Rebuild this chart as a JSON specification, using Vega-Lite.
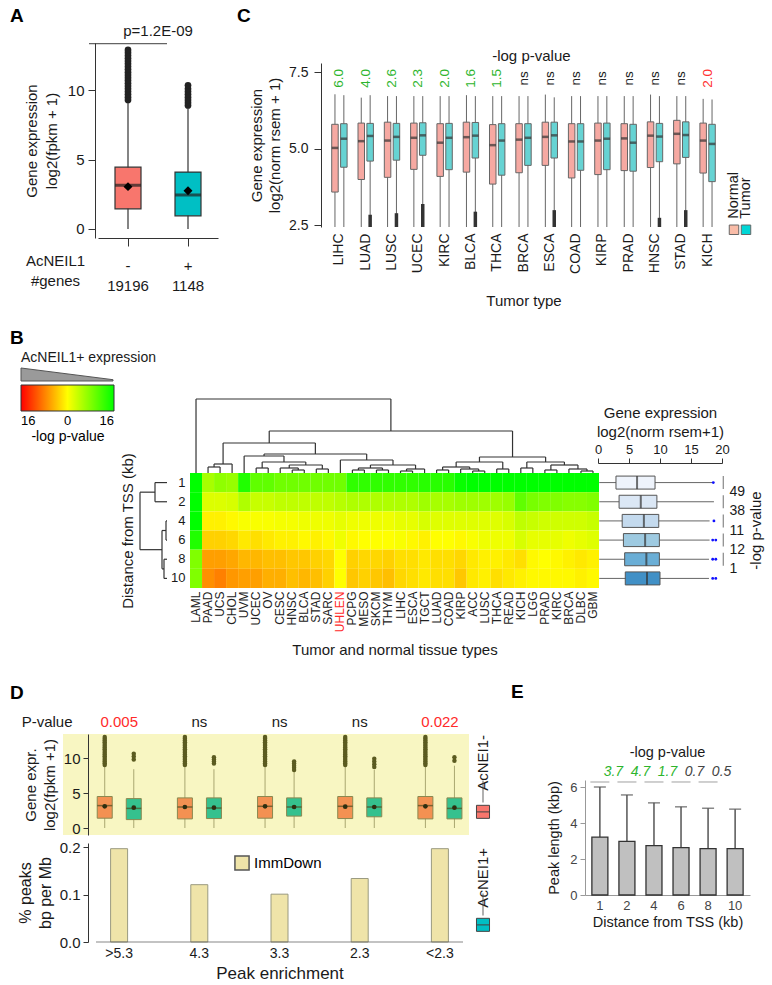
{
"$schema": "https://vega.github.io/schema/vega-lite/v6.json",
"padding": {"left": 10, "top": 7, "right": 0, "bottom": 0},
"background": "#ffffff",
"config": {
  "font": "Liberation Sans",
  "view": {"stroke": null},
  "axis": {"grid": false, "labelColor": "#1a1a1a", "titleColor": "#1a1a1a", "domainColor": "#333", "tickColor": "#333", "titleFontWeight": "normal", "labelFont": "Liberation Sans", "titleFont": "Liberation Sans"},
  "title": {"fontSize": 19, "fontWeight": "bold", "anchor": "start", "frame": "group", "color": "#000", "font": "Liberation Sans"},
  "legend": {"labelFont": "Liberation Sans", "titleFont": "Liberation Sans"},
  "text": {"color": "#1a1a1a"}
},
"spacing": 19,
"resolve": {"scale": {"color": "independent", "fill": "independent", "xOffset": "independent"}},
"vconcat": [
 {"hconcat": [
  {
   "title": {"text": "A", "dx": -53, "offset": -2},
   "width": 155, "height": 195,
   "layer": [
    {"data": {"values": [{"g":"-","lo":0,"q1":1.45,"med":3.15,"q3":4.45,"hi":9.2,"mean":3.05},{"g":"+","lo":0,"q1":0.95,"med":2.45,"q3":4.1,"hi":8.7,"mean":2.75}]},
     "layer": [
      {"mark": {"type": "rule", "color": "#333", "strokeWidth": 1.2},
       "encoding": {
        "x": {"field": "g", "type": "nominal", "scale": {"domain": ["-", "+"], "range": [35, 155], "paddingInner": 0, "paddingOuter": 0},
              "axis": {"title": ["AcNEIL1", "#genes"], "titleAngle": 0, "titleX": -8, "titleY": 22, "titleAlign": "center", "titleBaseline": "middle", "titleLineHeight": 20, "titleFontSize": 15, "labelAngle": 0, "labelExpr": "datum.value == '-' ? ['-', '19196'] : ['+', '1148']", "labelLineHeight": 20, "labelFontSize": 15, "tickSize": 8, "labelPadding": 12}},
        "y": {"field": "lo", "type": "quantitative", "scale": {"domain": [-0.65, 13.4], "nice": false, "zero": false},
              "axis": {"offset": -32, "values": [0, 5, 10], "title": ["Gene expression", "log2(fpkm + 1)"], "titleFontSize": 15, "titleLineHeight": 20, "labelFontSize": 15, "tickSize": 7, "labelPadding": 4, "titlePadding": 8}},
        "y2": {"field": "hi"}}},
      {"mark": {"type": "bar", "width": 26, "stroke": "#333", "strokeWidth": 1.2},
       "encoding": {"x": {"field": "g", "type": "nominal"}, "y": {"field": "q1", "type": "quantitative"}, "y2": {"field": "q3"},
        "fill": {"field": "g", "type": "nominal", "scale": {"domain": ["-", "+"], "range": ["#F8766D", "#00BFC4"]}, "legend": null}}},
      {"mark": {"type": "tick", "size": 26, "thickness": 3, "color": "#222"},
       "encoding": {"x": {"field": "g", "type": "nominal"}, "y": {"field": "med", "type": "quantitative"}}},
      {"mark": {"type": "point", "shape": "diamond", "filled": true, "size": 80, "color": "#000", "opacity": 1},
       "encoding": {"x": {"field": "g", "type": "nominal"}, "y": {"field": "mean", "type": "quantitative"}}}
     ]},
    {"data": {"values": [{"g":"-","v":9.3},{"g":"-","v":9.5},{"g":"-","v":9.7},{"g":"-","v":9.9},{"g":"-","v":10.1},{"g":"-","v":10.3},{"g":"-","v":10.5},{"g":"-","v":10.7},{"g":"-","v":10.9},{"g":"-","v":11.1},{"g":"-","v":11.3},{"g":"-","v":11.5},{"g":"-","v":11.7},{"g":"-","v":11.9},{"g":"-","v":12.1},{"g":"-","v":12.3},{"g":"-","v":12.5},{"g":"-","v":12.7},{"g":"-","v":12.9},{"g":"+","v":8.9},{"g":"+","v":9.1},{"g":"+","v":9.3},{"g":"+","v":9.5},{"g":"+","v":9.7},{"g":"+","v":9.9},{"g":"+","v":10.1},{"g":"+","v":10.35}]},
     "mark": {"type": "circle", "size": 45, "color": "#222", "opacity": 1},
     "encoding": {"x": {"field": "g", "type": "nominal"}, "y": {"field": "v", "type": "quantitative"}}},
    {"data": {"values": [{"g": "-", "label": "p=1.2E-09"}]},
     "layer": [
      {"mark": {"type": "tick", "size": 78, "thickness": 1.2, "color": "#222"},
       "encoding": {"x": {"field": "g", "type": "nominal", "bandPosition": 1}, "y": {"datum": 13.35}}},
      {"mark": {"type": "text", "fontSize": 15, "baseline": "middle"},
       "encoding": {"x": {"field": "g", "type": "nominal", "bandPosition": 1}, "y": {"datum": 14.25}, "text": {"field": "label"}}}
     ]}
   ]
  },
  {"hconcat": [
   {
    "title": {"text": "C", "dx": -84, "offset": 17},
    "width": 405, "height": 184,
    "layer": [
     {"data": {"values": [
       {"t":"LIHC","grp":"N","lo":2.45,"q1":3.59,"med":5.03,"q3":5.80,"hi":6.78},{"t":"LIHC","grp":"T","lo":2.45,"q1":4.40,"med":5.33,"q3":5.82,"hi":6.75},
       {"t":"LUAD","grp":"N","lo":2.45,"q1":4.00,"med":5.25,"q3":5.84,"hi":6.67},{"t":"LUAD","grp":"T","lo":2.45,"q1":4.60,"med":5.42,"q3":5.83,"hi":6.75},
       {"t":"LUSC","grp":"N","lo":2.45,"q1":4.07,"med":5.27,"q3":5.87,"hi":6.72},{"t":"LUSC","grp":"T","lo":2.45,"q1":4.63,"med":5.39,"q3":5.83,"hi":6.72},
       {"t":"UCEC","grp":"N","lo":2.45,"q1":4.33,"med":5.36,"q3":5.84,"hi":6.72},{"t":"UCEC","grp":"T","lo":2.45,"q1":4.79,"med":5.44,"q3":5.85,"hi":6.72},
       {"t":"KIRC","grp":"N","lo":2.45,"q1":4.10,"med":5.20,"q3":5.82,"hi":6.72},{"t":"KIRC","grp":"T","lo":2.45,"q1":4.32,"med":5.36,"q3":5.83,"hi":6.72},
       {"t":"BLCA","grp":"N","lo":2.45,"q1":4.24,"med":5.38,"q3":5.87,"hi":6.75},{"t":"BLCA","grp":"T","lo":2.45,"q1":4.70,"med":5.43,"q3":5.86,"hi":6.72},
       {"t":"THCA","grp":"N","lo":2.45,"q1":3.85,"med":5.12,"q3":5.79,"hi":6.72},{"t":"THCA","grp":"T","lo":2.45,"q1":4.14,"med":5.27,"q3":5.82,"hi":6.72},
       {"t":"BRCA","grp":"N","lo":2.45,"q1":4.22,"med":5.30,"q3":5.82,"hi":6.72},{"t":"BRCA","grp":"T","lo":2.45,"q1":4.46,"med":5.36,"q3":5.82,"hi":6.72},
       {"t":"ESCA","grp":"N","lo":2.45,"q1":4.46,"med":5.39,"q3":5.87,"hi":6.77},{"t":"ESCA","grp":"T","lo":2.45,"q1":4.70,"med":5.44,"q3":5.87,"hi":6.68},
       {"t":"COAD","grp":"N","lo":2.45,"q1":4.05,"med":5.24,"q3":5.82,"hi":6.72},{"t":"COAD","grp":"T","lo":2.45,"q1":4.30,"med":5.24,"q3":5.82,"hi":6.72},
       {"t":"KIRP","grp":"N","lo":2.45,"q1":4.16,"med":5.27,"q3":5.84,"hi":6.72},{"t":"KIRP","grp":"T","lo":2.45,"q1":4.32,"med":5.33,"q3":5.84,"hi":6.72},
       {"t":"PRAD","grp":"N","lo":2.45,"q1":4.29,"med":5.34,"q3":5.82,"hi":6.72},{"t":"PRAD","grp":"T","lo":2.45,"q1":4.27,"med":5.20,"q3":5.80,"hi":6.72},
       {"t":"HNSC","grp":"N","lo":2.45,"q1":4.39,"med":5.43,"q3":5.88,"hi":6.77},{"t":"HNSC","grp":"T","lo":2.45,"q1":4.58,"med":5.40,"q3":5.83,"hi":6.72},
       {"t":"STAD","grp":"N","lo":2.45,"q1":4.51,"med":5.49,"q3":5.93,"hi":6.72},{"t":"STAD","grp":"T","lo":2.45,"q1":4.72,"med":5.45,"q3":5.88,"hi":6.72},
       {"t":"KICH","grp":"N","lo":2.45,"q1":4.21,"med":5.27,"q3":5.84,"hi":6.63},{"t":"KICH","grp":"T","lo":2.45,"q1":3.93,"med":5.16,"q3":5.80,"hi":6.61}]},
      "layer": [
       {"mark": {"type": "rule", "color": "#666", "strokeWidth": 1},
        "encoding": {
         "x": {"field": "t", "type": "nominal", "scale": {"domain": ["LIHC","LUAD","LUSC","UCEC","KIRC","BLCA","THCA","BRCA","ESCA","COAD","KIRP","PRAD","HNSC","STAD","KICH"], "paddingInner": 0, "paddingOuter": 0.2},
               "axis": {"title": "Tumor type", "labelAngle": -90, "domain": false, "ticks": false, "labelFontSize": 14, "labelPadding": 6, "titleFontSize": 15, "titlePadding": 20}},
         "xOffset": {"field": "grp", "type": "nominal", "scale": {"domain": ["N", "T"], "paddingInner": 0, "paddingOuter": 0.48}},
         "y": {"field": "lo", "type": "quantitative", "scale": {"domain": [2.45, 7.8], "range": [184, 20], "nice": false, "zero": false},
               "axis": {"offset": 0, "values": [2.5, 5, 7.5], "format": ".1f", "title": ["Gene expression", "log2(norm rsem + 1)"], "titleFontSize": 15, "titleLineHeight": 18, "labelFontSize": 14, "tickSize": 7, "labelPadding": 6, "titlePadding": 6}},
         "y2": {"field": "hi"}}},
       {"mark": {"type": "bar", "width": 6.5, "stroke": "#666", "strokeWidth": 1},
        "encoding": {"x": {"field": "t", "type": "nominal"}, "xOffset": {"field": "grp", "type": "nominal"}, "y": {"field": "q1", "type": "quantitative"}, "y2": {"field": "q3"},
         "fill": {"field": "grp", "type": "nominal", "scale": {"domain": ["N", "T"], "range": ["#F6A9A2", "#66D3D3"]}, "legend": null}}},
       {"mark": {"type": "tick", "size": 6.5, "thickness": 2.5, "color": "#333"},
        "encoding": {"x": {"field": "t", "type": "nominal"}, "xOffset": {"field": "grp", "type": "nominal"}, "y": {"field": "med", "type": "quantitative"}}}
      ]},
     {"data": {"values": [{"t":"LUAD","grp":"T","olo":2.45,"ohi":2.85},{"t":"LUSC","grp":"T","olo":2.45,"ohi":2.9},{"t":"UCEC","grp":"T","olo":2.45,"ohi":3.2},{"t":"BLCA","grp":"T","olo":2.45,"ohi":2.95},{"t":"ESCA","grp":"T","olo":2.45,"ohi":3.0},{"t":"HNSC","grp":"T","olo":2.45,"ohi":2.75},{"t":"STAD","grp":"T","olo":2.45,"ohi":3.0}]},
      "mark": {"type": "rule", "strokeWidth": 3.5, "color": "#333"},
      "encoding": {"x": {"field": "t", "type": "nominal"}, "xOffset": {"field": "grp", "type": "nominal"}, "y": {"field": "olo", "type": "quantitative"}, "y2": {"field": "ohi"}}},
     {"data": {"values": [{"t":"LIHC","p":"6.0","sig":"up"},{"t":"LUAD","p":"4.0","sig":"up"},{"t":"LUSC","p":"2.6","sig":"up"},{"t":"UCEC","p":"2.3","sig":"up"},{"t":"KIRC","p":"2.0","sig":"up"},{"t":"BLCA","p":"1.6","sig":"up"},{"t":"THCA","p":"1.5","sig":"up"},{"t":"BRCA","p":"ns","sig":"ns"},{"t":"ESCA","p":"ns","sig":"ns"},{"t":"COAD","p":"ns","sig":"ns"},{"t":"KIRP","p":"ns","sig":"ns"},{"t":"PRAD","p":"ns","sig":"ns"},{"t":"HNSC","p":"ns","sig":"ns"},{"t":"STAD","p":"ns","sig":"ns"},{"t":"KICH","p":"2.0","sig":"down"}]},
      "mark": {"type": "text", "angle": 270, "fontSize": 13.5, "baseline": "middle", "align": "center"},
      "encoding": {"x": {"field": "t", "type": "nominal"}, "y": {"datum": 7.3}, "text": {"field": "p"},
       "color": {"field": "sig", "type": "nominal", "scale": {"domain": ["up", "ns", "down"], "range": ["#2DB52D", "#222222", "#FF3030"]}, "legend": null}}},
     {"data": {"values": [{"t": "BRCA", "l": "-log p-value"}]},
      "mark": {"type": "text", "fontSize": 15, "baseline": "middle"},
      "encoding": {"x": {"field": "t", "type": "nominal", "bandPosition": 0.8}, "y": {"datum": 8.03}, "text": {"field": "l"}}}
    ]
   },
   {
    "width": 24, "height": 184,
    "data": {"values": [{"k": "Normal"}, {"k": "Tumor"}]},
    "layer": [
     {"mark": {"type": "text", "angle": 270, "align": "left", "baseline": "middle", "fontSize": 14.5},
      "encoding": {"x": {"field": "k", "type": "nominal", "scale": {"domain": ["Normal", "Tumor"], "paddingInner": 0, "paddingOuter": 0}, "axis": null},
       "y": {"datum": 2.72, "type": "quantitative", "scale": {"domain": [2.45, 7.8], "range": [184, 20], "nice": false, "zero": false}, "axis": null},
       "text": {"field": "k"}}},
     {"mark": {"type": "square", "size": 90, "filled": true, "stroke": "#666", "strokeWidth": 1, "opacity": 1},
      "encoding": {"x": {"field": "k", "type": "nominal", "axis": null}, "y": {"datum": 2.36, "type": "quantitative", "axis": null},
       "fill": {"field": "k", "type": "nominal", "scale": {"domain": ["Normal", "Tumor"], "range": ["#F9BCA8", "#00D6D6"]}, "legend": null}}}
    ]
   }
  ], "spacing": 0, "resolve": {"scale": {"color": "independent", "fill": "independent", "xOffset": "independent"}}}
 ], "spacing": 19, "resolve": {"scale": {"color": "independent", "fill": "independent", "xOffset": "independent"}}},
 {"vconcat": [
 {
  "title": {"text": "B", "dx": -53, "offset": 3},
  "width": 536, "height": 115,
  "layer": [
   {"layer": [
     {"data": {"values": [
{"t":"LAML","k":"1","v":16},{"t":"PAAD","k":"1","v":5.5},{"t":"UCS","k":"1","v":7},{"t":"CHOL","k":"1","v":6.5},{"t":"UVM","k":"1","v":14},{"t":"UCEC","k":"1","v":10},{"t":"OV","k":"1","v":10},{"t":"CESC","k":"1","v":9},{"t":"HNSC","k":"1","v":9},{"t":"BLCA","k":"1","v":9},{"t":"STAD","k":"1","v":9},{"t":"SARC","k":"1","v":9},{"t":"UHLEN","k":"1","v":9},{"t":"PCPG","k":"1","v":13},{"t":"MESO","k":"1","v":13},{"t":"SKCM","k":"1","v":13},{"t":"THYM","k":"1","v":13},{"t":"LIHC","k":"1","v":13},{"t":"ESCA","k":"1","v":13},{"t":"TGCT","k":"1","v":13.5},{"t":"LUAD","k":"1","v":13.5},{"t":"COAD","k":"1","v":13.5},{"t":"KIRP","k":"1","v":15.5},{"t":"ACC","k":"1","v":16},{"t":"LUSC","k":"1","v":16},{"t":"THCA","k":"1","v":16},{"t":"READ","k":"1","v":16},{"t":"KICH","k":"1","v":16},{"t":"LGG","k":"1","v":16},{"t":"PRAD","k":"1","v":16},{"t":"KIRC","k":"1","v":16},{"t":"BRCA","k":"1","v":16},{"t":"DLBC","k":"1","v":16},{"t":"GBM","k":"1","v":16},
{"t":"LAML","k":"2","v":16},{"t":"PAAD","k":"2","v":2.2},{"t":"UCS","k":"2","v":2.2},{"t":"CHOL","k":"2","v":2.5},{"t":"UVM","k":"2","v":5},{"t":"UCEC","k":"2","v":3.5},{"t":"OV","k":"2","v":3.5},{"t":"CESC","k":"2","v":4},{"t":"HNSC","k":"2","v":4},{"t":"BLCA","k":"2","v":4},{"t":"STAD","k":"2","v":4},{"t":"SARC","k":"2","v":4},{"t":"UHLEN","k":"2","v":4.5},{"t":"PCPG","k":"2","v":5},{"t":"MESO","k":"2","v":5},{"t":"SKCM","k":"2","v":5},{"t":"THYM","k":"2","v":5},{"t":"LIHC","k":"2","v":5},{"t":"ESCA","k":"2","v":5},{"t":"TGCT","k":"2","v":6},{"t":"LUAD","k":"2","v":5.5},{"t":"COAD","k":"2","v":5.5},{"t":"KIRP","k":"2","v":6},{"t":"ACC","k":"2","v":6},{"t":"LUSC","k":"2","v":6},{"t":"THCA","k":"2","v":6},{"t":"READ","k":"2","v":6.5},{"t":"KICH","k":"2","v":10},{"t":"LGG","k":"2","v":8.5},{"t":"PRAD","k":"2","v":8},{"t":"KIRC","k":"2","v":8},{"t":"BRCA","k":"2","v":7.5},{"t":"DLBC","k":"2","v":7.5},{"t":"GBM","k":"2","v":8},
{"t":"LAML","k":"4","v":16},{"t":"PAAD","k":"4","v":-0.9},{"t":"UCS","k":"4","v":-0.9},{"t":"CHOL","k":"4","v":-0.4},{"t":"UVM","k":"4","v":0.4},{"t":"UCEC","k":"4","v":0.4},{"t":"OV","k":"4","v":0.4},{"t":"CESC","k":"4","v":0.6},{"t":"HNSC","k":"4","v":0.6},{"t":"BLCA","k":"4","v":1},{"t":"STAD","k":"4","v":1},{"t":"SARC","k":"4","v":1},{"t":"UHLEN","k":"4","v":1.5},{"t":"PCPG","k":"4","v":1},{"t":"MESO","k":"4","v":1},{"t":"SKCM","k":"4","v":1},{"t":"THYM","k":"4","v":1},{"t":"LIHC","k":"4","v":1.5},{"t":"ESCA","k":"4","v":1.5},{"t":"TGCT","k":"4","v":2.5},{"t":"LUAD","k":"4","v":2},{"t":"COAD","k":"4","v":2},{"t":"KIRP","k":"4","v":2},{"t":"ACC","k":"4","v":2},{"t":"LUSC","k":"4","v":2},{"t":"THCA","k":"4","v":2},{"t":"READ","k":"4","v":2.5},{"t":"KICH","k":"4","v":4},{"t":"LGG","k":"4","v":3.5},{"t":"PRAD","k":"4","v":3},{"t":"KIRC","k":"4","v":3},{"t":"BRCA","k":"4","v":3},{"t":"DLBC","k":"4","v":3},{"t":"GBM","k":"4","v":3.5},
{"t":"LAML","k":"6","v":14},{"t":"PAAD","k":"6","v":-2.9},{"t":"UCS","k":"6","v":-2.9},{"t":"CHOL","k":"6","v":-2.5},{"t":"UVM","k":"6","v":-1.4},{"t":"UCEC","k":"6","v":-2},{"t":"OV","k":"6","v":-1.4},{"t":"CESC","k":"6","v":-0.9},{"t":"HNSC","k":"6","v":-0.9},{"t":"BLCA","k":"6","v":-0.4},{"t":"STAD","k":"6","v":-0.9},{"t":"SARC","k":"6","v":-0.4},{"t":"UHLEN","k":"6","v":1},{"t":"PCPG","k":"6","v":-0.4},{"t":"MESO","k":"6","v":0},{"t":"SKCM","k":"6","v":0},{"t":"THYM","k":"6","v":0},{"t":"LIHC","k":"6","v":0.4},{"t":"ESCA","k":"6","v":-0.4},{"t":"TGCT","k":"6","v":-0.9},{"t":"LUAD","k":"6","v":0},{"t":"COAD","k":"6","v":0},{"t":"KIRP","k":"6","v":-0.4},{"t":"ACC","k":"6","v":0.4},{"t":"LUSC","k":"6","v":1},{"t":"THCA","k":"6","v":1},{"t":"READ","k":"6","v":1},{"t":"KICH","k":"6","v":2.5},{"t":"LGG","k":"6","v":1.5},{"t":"PRAD","k":"6","v":1.5},{"t":"KIRC","k":"6","v":1.5},{"t":"BRCA","k":"6","v":1},{"t":"DLBC","k":"6","v":1.5},{"t":"GBM","k":"6","v":2},
{"t":"LAML","k":"8","v":8},{"t":"PAAD","k":"8","v":-6},{"t":"UCS","k":"8","v":-6},{"t":"CHOL","k":"8","v":-5.5},{"t":"UVM","k":"8","v":-4.5},{"t":"UCEC","k":"8","v":-4.5},{"t":"OV","k":"8","v":-4},{"t":"CESC","k":"8","v":-4},{"t":"HNSC","k":"8","v":-3.5},{"t":"BLCA","k":"8","v":-3.5},{"t":"STAD","k":"8","v":-2.9},{"t":"SARC","k":"8","v":-2.5},{"t":"UHLEN","k":"8","v":0},{"t":"PCPG","k":"8","v":-2.9},{"t":"MESO","k":"8","v":-2.5},{"t":"SKCM","k":"8","v":-2.5},{"t":"THYM","k":"8","v":-2.9},{"t":"LIHC","k":"8","v":-2},{"t":"ESCA","k":"8","v":-2},{"t":"TGCT","k":"8","v":-1.4},{"t":"LUAD","k":"8","v":-2},{"t":"COAD","k":"8","v":-2},{"t":"KIRP","k":"8","v":-2.5},{"t":"ACC","k":"8","v":-1.4},{"t":"LUSC","k":"8","v":-0.9},{"t":"THCA","k":"8","v":-0.9},{"t":"READ","k":"8","v":-1.4},{"t":"KICH","k":"8","v":-2},{"t":"LGG","k":"8","v":-0.4},{"t":"PRAD","k":"8","v":0},{"t":"KIRC","k":"8","v":-0.4},{"t":"BRCA","k":"8","v":-0.9},{"t":"DLBC","k":"8","v":-1.4},{"t":"GBM","k":"8","v":-0.9},
{"t":"LAML","k":"10","v":8},{"t":"PAAD","k":"10","v":-7},{"t":"UCS","k":"10","v":-8},{"t":"CHOL","k":"10","v":-6.5},{"t":"UVM","k":"10","v":-6},{"t":"UCEC","k":"10","v":-6},{"t":"OV","k":"10","v":-5},{"t":"CESC","k":"10","v":-5},{"t":"HNSC","k":"10","v":-4},{"t":"BLCA","k":"10","v":-4.5},{"t":"STAD","k":"10","v":-4},{"t":"SARC","k":"10","v":-2.9},{"t":"UHLEN","k":"10","v":0},{"t":"PCPG","k":"10","v":-3.5},{"t":"MESO","k":"10","v":-2.9},{"t":"SKCM","k":"10","v":-3.5},{"t":"THYM","k":"10","v":-4},{"t":"LIHC","k":"10","v":-2.5},{"t":"ESCA","k":"10","v":-2},{"t":"TGCT","k":"10","v":-1.4},{"t":"LUAD","k":"10","v":-2},{"t":"COAD","k":"10","v":-2},{"t":"KIRP","k":"10","v":-3.5},{"t":"ACC","k":"10","v":-1.4},{"t":"LUSC","k":"10","v":-0.9},{"t":"THCA","k":"10","v":-2},{"t":"READ","k":"10","v":-1.4},{"t":"KICH","k":"10","v":-0.9},{"t":"LGG","k":"10","v":-0.4},{"t":"PRAD","k":"10","v":-0.4},{"t":"KIRC","k":"10","v":-0.4},{"t":"BRCA","k":"10","v":-0.4},{"t":"DLBC","k":"10","v":-0.9},{"t":"GBM","k":"10","v":-0.4}]},
      "mark": {"type": "rect"},
      "encoding": {
       "x": {"field": "t", "type": "nominal", "scale": {"domain": ["LAML","PAAD","UCS","CHOL","UVM","UCEC","OV","CESC","HNSC","BLCA","STAD","SARC","UHLEN","PCPG","MESO","SKCM","THYM","LIHC","ESCA","TGCT","LUAD","COAD","KIRP","ACC","LUSC","THCA","READ","KICH","LGG","PRAD","KIRC","BRCA","DLBC","GBM"], "range": [127, 536], "paddingInner": 0, "paddingOuter": 0},
             "axis": {"orient": "bottom", "title": "Tumor and normal tissue types", "labelAngle": -90, "labelFontSize": 12, "ticks": false, "domain": false, "labelPadding": 3, "titleFontSize": 15, "titlePadding": 11,
                      "labelColor": {"condition": {"test": "datum.value === 'UHLEN'", "value": "#FF2A2A"}, "value": "#222222"}}},
       "y": {"field": "k", "type": "ordinal", "scale": {"domain": ["1","2","4","6","8","10"], "paddingInner": 0, "paddingOuter": 0},
             "axis": {"offset": -127, "title": "Distance from TSS (kb)", "ticks": false, "domain": false, "labelFontSize": 13, "labelPadding": 5, "titleFontSize": 15, "titlePadding": 35}},
       "color": {"field": "v", "type": "quantitative", "scale": {"domain": [-16, 0, 16], "range": ["#ff0000", "#ffff00", "#00ff00"], "interpolate": "rgb"},
                 "legend": {"orient": "none", "legendX": -42, "legendY": -88, "direction": "horizontal", "gradientLength": 93, "gradientThickness": 26, "title": "-log p-value", "titleOrient": "bottom", "titleAnchor": "middle", "titleFontSize": 14, "titleFontWeight": "normal", "titlePadding": 2, "values": [-16, 0, 16], "labelExpr": "format(abs(datum.value), 'd')", "labelFontSize": 13, "labelAlign": "center", "gradientStrokeColor": "#333", "gradientStrokeWidth": 1, "labelOffset": 4}}}},
     {"layer": [
       {"data": {"values": [{"k":"1","lo":0.2,"q1":2.9,"med":6.3,"q3":9.2,"hi":18.5},{"k":"2","lo":0.2,"q1":3.4,"med":6.9,"q3":9.5,"hi":18.7},{"k":"4","lo":0.2,"q1":3.9,"med":7.4,"q3":9.8,"hi":18.0},{"k":"6","lo":0.2,"q1":4.1,"med":7.6,"q3":9.9,"hi":18.0},{"k":"8","lo":0.2,"q1":4.3,"med":7.8,"q3":9.9,"hi":17.9},{"k":"10","lo":0.2,"q1":4.4,"med":7.9,"q3":10.0,"hi":17.9}]},
        "layer": [
         {"mark": {"type": "rule", "color": "#666", "strokeWidth": 1},
          "encoding": {"x": {"field": "lo", "type": "quantitative", "scale": {"domain": [0, 20], "range": [535, 659], "nice": false, "zero": false},
                             "axis": {"orient": "top", "offset": 10, "values": [0, 5, 10, 15, 20], "labelFlush": false, "title": ["Gene expression", "log2(norm rsem+1)"], "titleFontSize": 15, "titleLineHeight": 19, "labelFontSize": 13, "tickSize": 5, "labelPadding": 2, "titlePadding": 4}},
                       "x2": {"field": "hi"}, "y": {"field": "k", "type": "ordinal"}}},
         {"mark": {"type": "bar", "height": 13, "stroke": "#555", "strokeWidth": 1},
          "encoding": {"x": {"field": "q1", "type": "quantitative"}, "x2": {"field": "q3"}, "y": {"field": "k", "type": "ordinal"},
                       "fill": {"field": "k", "type": "ordinal", "scale": {"domain": ["1","2","4","6","8","10"], "range": ["#EEF3FB","#DBE7F5","#C4DAEE","#9ECAE1","#6AAED6","#4190C6"]}, "legend": null}}},
         {"mark": {"type": "tick", "size": 13, "thickness": 2, "color": "#333"},
          "encoding": {"x": {"field": "med", "type": "quantitative"}, "y": {"field": "k", "type": "ordinal"}}}
        ]},
       {"data": {"values": [{"k":"1","v":18.6},{"k":"4","v":18.7},{"k":"6","v":18.5},{"k":"6","v":19.0},{"k":"8","v":18.5},{"k":"8","v":19.0},{"k":"10","v":18.5},{"k":"10","v":19.0}]},
        "mark": {"type": "circle", "size": 8, "color": "#1010FF", "opacity": 1},
        "encoding": {"x": {"field": "v", "type": "quantitative"}, "y": {"field": "k", "type": "ordinal"}}},
       {"data": {"values": [{"k":"1","p":"49"},{"k":"2","p":"38"},{"k":"4","p":"11"},{"k":"6","p":"12"},{"k":"8","p":"1"}]},
        "layer": [
         {"mark": {"type": "tick", "size": 13, "thickness": 1, "color": "#333"},
          "encoding": {"x": {"datum": 20.2}, "y": {"field": "k", "type": "ordinal", "bandPosition": 1}}},
         {"mark": {"type": "text", "align": "left", "baseline": "middle", "fontSize": 14},
          "encoding": {"x": {"datum": 21.2}, "y": {"field": "k", "type": "ordinal", "bandPosition": 1}, "text": {"field": "p"}}}
        ]},
       {"data": {"values": [{"k": "4", "l": "-log p-value"}]},
        "mark": {"type": "text", "angle": 270, "align": "center", "baseline": "middle", "fontSize": 15},
        "encoding": {"x": {"datum": 25.5}, "y": {"field": "k", "type": "ordinal", "bandPosition": 1}, "text": {"field": "l"}}}
      ]}
    ],
    "resolve": {"scale": {"x": "independent"}}},
   {"data": {"values": [
     {"l":0,"r":16.2,"h":74,"lh":0,"rh":42},{"l":6.086,"r":26.3125,"h":42,"lh":30,"rh":16},{"l":2.25,"r":9.922,"h":30,"lh":9,"rh":19},{"l":1.5,"r":3,"h":9,"lh":6,"rh":0},{"l":1,"r":2,"h":6,"lh":0,"rh":0},
     {"l":5.656,"r":14.1875,"h":19,"lh":17,"rh":13},{"l":4,"r":7.3125,"h":17,"lh":0,"rh":11},{"l":5.5,"r":9.125,"h":11,"lh":5,"rh":8},{"l":5,"r":6,"h":5,"lh":0,"rh":0},{"l":7.75,"r":10.5,"h":8,"lh":5,"rh":4},
     {"l":7,"r":8.5,"h":5,"lh":0,"rh":3},{"l":8,"r":9,"h":3,"lh":0,"rh":0},{"l":10,"r":11,"h":4,"lh":0,"rh":0},{"l":12,"r":16.375,"h":13,"lh":0,"rh":8},{"l":14.5,"r":18.25,"h":8,"lh":5,"rh":4},
     {"l":13.5,"r":15.5,"h":5,"lh":3,"rh":3},{"l":13,"r":14,"h":3,"lh":0,"rh":0},{"l":15,"r":16,"h":3,"lh":0,"rh":0},{"l":17.5,"r":19,"h":4,"lh":2,"rh":0},{"l":17,"r":18,"h":2,"lh":0,"rh":0},
     {"l":23.5625,"r":29.0625,"h":16,"lh":11,"rh":11},{"l":21.625,"r":25.5,"h":11,"lh":6,"rh":4},{"l":20.5,"r":22.75,"h":6,"lh":3,"rh":4},{"l":20,"r":21,"h":3,"lh":0,"rh":0},{"l":22,"r":23.5,"h":4,"lh":0,"rh":2},
     {"l":23,"r":24,"h":2,"lh":0,"rh":0},{"l":25,"r":26,"h":4,"lh":0,"rh":0},{"l":27.5,"r":30.625,"h":11,"lh":5,"rh":8},{"l":27,"r":28,"h":5,"lh":0,"rh":0},{"l":29.5,"r":31.75,"h":8,"lh":3,"rh":4},
     {"l":29,"r":30,"h":3,"lh":0,"rh":0},{"l":31,"r":32.5,"h":4,"lh":0,"rh":2},{"l":32,"r":33,"h":2,"lh":0,"rh":0}]},
    "layer": [
     {"mark": {"type": "rule", "color": "#333", "strokeWidth": 1.2},
      "encoding": {"x": {"field": "l", "type": "quantitative", "scale": {"domain": [-0.5, 33.5], "range": [127, 536], "nice": false, "zero": false}, "axis": null}, "x2": {"field": "r"},
                   "y": {"field": "h", "type": "quantitative", "scale": {"domain": [0, 74], "range": [0, -74], "nice": false, "zero": false}, "axis": null}}},
     {"mark": {"type": "rule", "color": "#333", "strokeWidth": 1.2},
      "encoding": {"x": {"field": "l", "type": "quantitative", "axis": null}, "y": {"field": "lh", "type": "quantitative", "axis": null}, "y2": {"field": "h"}}},
     {"mark": {"type": "rule", "color": "#333", "strokeWidth": 1.2},
      "encoding": {"x": {"field": "r", "type": "quantitative", "axis": null}, "y": {"field": "rh", "type": "quantitative", "axis": null}, "y2": {"field": "h"}}}
    ]},
   {"data": {"values": [{"l":0,"r":1,"h":12,"lh":0,"rh":0},{"l":2,"r":3,"h":1,"lh":0,"rh":0},{"l":4,"r":5,"h":3,"lh":0,"rh":0},{"l":2.5,"r":4.5,"h":5,"lh":1,"rh":3},{"l":0.5,"r":3.5,"h":27,"lh":12,"rh":5}]},
    "layer": [
     {"mark": {"type": "rule", "color": "#333", "strokeWidth": 1.2},
      "encoding": {"x": {"field": "h", "type": "quantitative", "scale": {"domain": [0, 27], "range": [104, 77], "nice": false, "zero": false}, "axis": null},
                   "y": {"field": "l", "type": "quantitative", "scale": {"domain": [-0.5, 5.5], "range": [0, 115], "nice": false, "zero": false}, "axis": null}, "y2": {"field": "r"}}},
     {"mark": {"type": "rule", "color": "#333", "strokeWidth": 1.2},
      "encoding": {"x": {"field": "lh", "type": "quantitative", "axis": null}, "x2": {"field": "h"}, "y": {"field": "l", "type": "quantitative", "axis": null}}},
     {"mark": {"type": "rule", "color": "#333", "strokeWidth": 1.2},
      "encoding": {"x": {"field": "rh", "type": "quantitative", "axis": null}, "x2": {"field": "h"}, "y": {"field": "r", "type": "quantitative", "axis": null}}}
    ]},
   {"layer": [
     {"data": {"values": [{"p": 0, "h": 1}, {"p": 1, "h": 0.1}]},
      "mark": {"type": "area", "color": "#9a9a9a", "stroke": "#555", "strokeWidth": 1},
      "encoding": {"x": {"field": "p", "type": "quantitative", "scale": {"domain": [0, 1], "range": [-42, 50], "nice": false, "zero": false}, "axis": null},
                   "y": {"field": "h", "type": "quantitative", "scale": {"domain": [0, 1], "range": [-92, -105], "nice": false, "zero": false}, "axis": null},
                   "y2": {"datum": 0}}},
     {"data": {"values": [{"label": "AcNEIL1+ expression"}]},
      "mark": {"type": "text", "align": "left", "baseline": "middle", "fontSize": 14},
      "encoding": {"x": {"datum": 0, "type": "quantitative", "axis": null}, "y": {"datum": 1.8, "type": "quantitative", "axis": null}, "text": {"field": "label"}}}
    ]}
  ],
  "resolve": {"scale": {"x": "independent", "y": "independent"}}
 },
 {"hconcat": [
  {"hconcat": [
   {"vconcat": [
    {
     "title": {"text": "D", "dx": -53, "offset": 12},
     "width": 406, "height": 101,
     "view": {"fill": "#F8F6C2", "stroke": null},
     "layer": [
      {"data": {"values": [
        {"enr":">5.3","grp":"neg","lo":0,"q1":1.4,"med":3.2,"q3":4.5,"hi":8.9,"mean":3.1},{"enr":">5.3","grp":"pos","lo":0,"q1":1.2,"med":2.8,"q3":4.2,"hi":8.4,"mean":2.9},
        {"enr":"4.3","grp":"neg","lo":0,"q1":1.3,"med":3.0,"q3":4.3,"hi":8.7,"mean":3.0},{"enr":"4.3","grp":"pos","lo":0,"q1":1.35,"med":2.85,"q3":4.3,"hi":8.4,"mean":2.9},
        {"enr":"3.3","grp":"neg","lo":0,"q1":1.4,"med":3.1,"q3":4.5,"hi":8.9,"mean":3.1},{"enr":"3.3","grp":"pos","lo":0,"q1":1.7,"med":3.0,"q3":4.3,"hi":8.2,"mean":3.0},
        {"enr":"2.3","grp":"neg","lo":0,"q1":1.35,"med":3.1,"q3":4.5,"hi":8.9,"mean":3.05},{"enr":"2.3","grp":"pos","lo":0,"q1":1.6,"med":3.0,"q3":4.3,"hi":8.3,"mean":3.0},
        {"enr":"<2.3","grp":"neg","lo":0,"q1":1.3,"med":3.2,"q3":4.5,"hi":8.9,"mean":3.1},{"enr":"<2.3","grp":"pos","lo":0,"q1":1.3,"med":2.8,"q3":4.3,"hi":8.9,"mean":2.9}]},
       "layer": [
        {"mark": {"type": "rule", "color": "#A9A770", "strokeWidth": 1},
         "encoding": {
          "x": {"field": "enr", "type": "nominal", "scale": {"domain": ["P", ">5.3", "4.3", "3.3", "2.3", "<2.3"], "range": [-64, 417], "paddingInner": 0, "paddingOuter": 0}, "axis": null},
          "xOffset": {"field": "grp", "type": "nominal", "scale": {"domain": ["neg", "pos"], "paddingInner": 0, "paddingOuter": 0.38}},
          "y": {"field": "lo", "type": "quantitative", "scale": {"domain": [-1, 13.43], "nice": false, "zero": false},
                "axis": {"values": [0, 5, 10], "offset": -25, "title": ["Gene expr.", "log2(fpkm +1)"], "titleFontSize": 15, "titleLineHeight": 19, "labelFontSize": 15, "tickSize": 5, "labelPadding": 3, "titlePadding": 6}},
          "y2": {"field": "hi"}}},
        {"mark": {"type": "bar", "width": 15, "stroke": "#8A8850", "strokeWidth": 1},
         "encoding": {"x": {"field": "enr", "type": "nominal"}, "xOffset": {"field": "grp", "type": "nominal"}, "y": {"field": "q1", "type": "quantitative"}, "y2": {"field": "q3"},
          "fill": {"field": "grp", "type": "nominal", "scale": {"domain": ["neg", "pos"], "range": ["#F39152", "#35C18E"]}, "legend": null}}},
        {"mark": {"type": "tick", "size": 15, "thickness": 1.5, "color": "#4D4D22"},
         "encoding": {"x": {"field": "enr", "type": "nominal"}, "xOffset": {"field": "grp", "type": "nominal"}, "y": {"field": "med", "type": "quantitative"}}},
        {"mark": {"type": "circle", "size": 22, "color": "#2E2E10", "opacity": 1},
         "encoding": {"x": {"field": "enr", "type": "nominal"}, "xOffset": {"field": "grp", "type": "nominal"}, "y": {"field": "mean", "type": "quantitative"}}}
       ]},
      {"data": {"values": [
        {"enr":">5.3","grp":"neg","v":9.0},{"enr":">5.3","grp":"neg","v":9.25},{"enr":">5.3","grp":"neg","v":9.5},{"enr":">5.3","grp":"neg","v":9.75},{"enr":">5.3","grp":"neg","v":10.0},{"enr":">5.3","grp":"neg","v":10.25},{"enr":">5.3","grp":"neg","v":10.5},{"enr":">5.3","grp":"neg","v":10.75},{"enr":">5.3","grp":"neg","v":11.0},{"enr":">5.3","grp":"neg","v":11.25},{"enr":">5.3","grp":"neg","v":11.5},{"enr":">5.3","grp":"neg","v":11.75},{"enr":">5.3","grp":"neg","v":12.0},{"enr":">5.3","grp":"neg","v":12.25},{"enr":">5.3","grp":"neg","v":12.5},{"enr":">5.3","grp":"neg","v":12.75},{"enr":">5.3","grp":"neg","v":13.0},
        {"enr":"4.3","grp":"neg","v":9.0},{"enr":"4.3","grp":"neg","v":9.25},{"enr":"4.3","grp":"neg","v":9.5},{"enr":"4.3","grp":"neg","v":9.75},{"enr":"4.3","grp":"neg","v":10.0},{"enr":"4.3","grp":"neg","v":10.25},{"enr":"4.3","grp":"neg","v":10.5},{"enr":"4.3","grp":"neg","v":10.75},{"enr":"4.3","grp":"neg","v":11.0},{"enr":"4.3","grp":"neg","v":11.25},{"enr":"4.3","grp":"neg","v":11.5},{"enr":"4.3","grp":"neg","v":11.75},{"enr":"4.3","grp":"neg","v":12.0},{"enr":"4.3","grp":"neg","v":12.25},{"enr":"4.3","grp":"neg","v":12.5},{"enr":"4.3","grp":"neg","v":12.75},{"enr":"4.3","grp":"neg","v":13.0},
        {"enr":"3.3","grp":"neg","v":9.0},{"enr":"3.3","grp":"neg","v":9.25},{"enr":"3.3","grp":"neg","v":9.5},{"enr":"3.3","grp":"neg","v":9.75},{"enr":"3.3","grp":"neg","v":10.0},{"enr":"3.3","grp":"neg","v":10.25},{"enr":"3.3","grp":"neg","v":10.5},{"enr":"3.3","grp":"neg","v":10.75},{"enr":"3.3","grp":"neg","v":11.0},{"enr":"3.3","grp":"neg","v":11.25},{"enr":"3.3","grp":"neg","v":11.5},{"enr":"3.3","grp":"neg","v":11.75},{"enr":"3.3","grp":"neg","v":12.0},{"enr":"3.3","grp":"neg","v":12.25},{"enr":"3.3","grp":"neg","v":12.5},{"enr":"3.3","grp":"neg","v":12.75},{"enr":"3.3","grp":"neg","v":13.0},
        {"enr":"2.3","grp":"neg","v":9.0},{"enr":"2.3","grp":"neg","v":9.25},{"enr":"2.3","grp":"neg","v":9.5},{"enr":"2.3","grp":"neg","v":9.75},{"enr":"2.3","grp":"neg","v":10.0},{"enr":"2.3","grp":"neg","v":10.25},{"enr":"2.3","grp":"neg","v":10.5},{"enr":"2.3","grp":"neg","v":10.75},{"enr":"2.3","grp":"neg","v":11.0},{"enr":"2.3","grp":"neg","v":11.25},{"enr":"2.3","grp":"neg","v":11.5},{"enr":"2.3","grp":"neg","v":11.75},{"enr":"2.3","grp":"neg","v":12.0},{"enr":"2.3","grp":"neg","v":12.25},{"enr":"2.3","grp":"neg","v":12.5},{"enr":"2.3","grp":"neg","v":12.75},{"enr":"2.3","grp":"neg","v":13.0},
        {"enr":"<2.3","grp":"neg","v":9.0},{"enr":"<2.3","grp":"neg","v":9.25},{"enr":"<2.3","grp":"neg","v":9.5},{"enr":"<2.3","grp":"neg","v":9.75},{"enr":"<2.3","grp":"neg","v":10.0},{"enr":"<2.3","grp":"neg","v":10.25},{"enr":"<2.3","grp":"neg","v":10.5},{"enr":"<2.3","grp":"neg","v":10.75},{"enr":"<2.3","grp":"neg","v":11.0},{"enr":"<2.3","grp":"neg","v":11.25},{"enr":"<2.3","grp":"neg","v":11.5},{"enr":"<2.3","grp":"neg","v":11.75},{"enr":"<2.3","grp":"neg","v":12.0},{"enr":"<2.3","grp":"neg","v":12.25},{"enr":"<2.3","grp":"neg","v":12.5},{"enr":"<2.3","grp":"neg","v":12.75},{"enr":"<2.3","grp":"neg","v":13.0},
        {"enr":">5.3","grp":"pos","v":9.8},{"enr":">5.3","grp":"pos","v":10.2},{"enr":">5.3","grp":"pos","v":10.6},
        {"enr":"4.3","grp":"pos","v":9.2},{"enr":"4.3","grp":"pos","v":9.5},{"enr":"4.3","grp":"pos","v":9.8},{"enr":"4.3","grp":"pos","v":10.1},
        {"enr":"3.3","grp":"pos","v":8.3},{"enr":"3.3","grp":"pos","v":8.6},{"enr":"3.3","grp":"pos","v":8.9},{"enr":"3.3","grp":"pos","v":9.2},{"enr":"3.3","grp":"pos","v":9.5},
        {"enr":"2.3","grp":"pos","v":8.7},{"enr":"2.3","grp":"pos","v":9.1},{"enr":"2.3","grp":"pos","v":9.5},{"enr":"2.3","grp":"pos","v":9.9},
        {"enr":"<2.3","grp":"pos","v":9.6},{"enr":"<2.3","grp":"pos","v":10.1}]},
       "mark": {"type": "circle", "size": 20, "color": "#5B5B20", "opacity": 1},
       "encoding": {"x": {"field": "enr", "type": "nominal"}, "xOffset": {"field": "grp", "type": "nominal"}, "y": {"field": "v", "type": "quantitative"}}},
      {"data": {"values": [{"enr":">5.3","p":"0.005","sig":"s"},{"enr":"4.3","p":"ns","sig":"ns"},{"enr":"3.3","p":"ns","sig":"ns"},{"enr":"2.3","p":"ns","sig":"ns"},{"enr":"<2.3","p":"0.022","sig":"s"}]},
       "mark": {"type": "text", "fontSize": 15, "baseline": "middle"},
       "encoding": {"x": {"field": "enr", "type": "nominal"}, "y": {"datum": 15.1}, "text": {"field": "p"},
        "color": {"field": "sig", "type": "nominal", "scale": {"domain": ["s", "ns"], "range": ["#FF2A2A", "#1A1A1A"]}, "legend": null}}},
      {"data": {"values": [{"enr": "P", "label": "P-value"}]},
       "mark": {"type": "text", "fontSize": 15, "baseline": "middle"},
       "encoding": {"x": {"field": "enr", "type": "nominal", "bandPosition": 0.6}, "y": {"datum": 15.1}, "text": {"field": "label"}}}
     ]
    },
    {
     "width": 392, "height": 99,
     "layer": [
      {"data": {"values": [{"enr":">5.3","v":0.197,"cat":"ImmDown"},{"enr":"4.3","v":0.121,"cat":"ImmDown"},{"enr":"3.3","v":0.101,"cat":"ImmDown"},{"enr":"2.3","v":0.134,"cat":"ImmDown"},{"enr":"<2.3","v":0.197,"cat":"ImmDown"}]},
       "mark": {"type": "bar", "width": 17, "stroke": "#9A9A80", "strokeWidth": 1},
       "encoding": {
        "x": {"field": "enr", "type": "nominal", "scale": {"domain": [">5.3", "4.3", "3.3", "2.3", "<2.3"], "range": [16, 417], "paddingInner": 0, "paddingOuter": 0},
              "axis": {"title": "Peak enrichment", "labelAngle": 0, "domain": false, "ticks": false, "labelFontSize": 14, "labelPadding": 4, "titleFontSize": 17, "titlePadding": 5}},
        "y": {"field": "v", "type": "quantitative", "scale": {"domain": [0, 0.209], "nice": false, "zero": false},
              "axis": {"offset": -25, "values": [0, 0.1, 0.2], "format": ".1f", "title": ["% peaks", "bp per Mb"], "titleFontSize": 16, "titleLineHeight": 20, "labelFontSize": 15, "tickSize": 5, "labelPadding": 3, "titlePadding": 6}},
        "fill": {"field": "cat", "type": "nominal", "scale": {"domain": ["ImmDown"], "range": ["#EFE4A9"]},
                 "legend": {"orient": "none", "legendX": 171, "legendY": 12, "title": null, "symbolType": "square", "symbolSize": 200, "symbolStrokeColor": "#555", "symbolStrokeWidth": 1.5, "labelFontSize": 15, "symbolOpacity": 1}}}},
      {"data": {"values": [{"enr": "3.3"}]},
       "mark": {"type": "tick", "size": 367, "thickness": 1.2, "color": "#555"},
       "encoding": {"x": {"field": "enr", "type": "nominal", "bandPosition": 0.4}, "y": {"datum": 0}}}
     ]
    }
   ], "spacing": 3, "resolve": {"scale": {"color": "independent", "fill": "independent", "xOffset": "independent"}}},
   {
    "width": 16, "height": 230,
    "data": {"values": [{"k": "AcNEI1-"}, {"k": "AcNEI1+"}]},
    "layer": [
     {"mark": {"type": "text", "angle": 270, "align": "right", "baseline": "middle", "fontSize": 15},
      "encoding": {"x": {"datum": 0.5, "type": "quantitative", "scale": {"domain": [0, 1]}, "axis": null},
       "y": {"field": "k", "type": "nominal", "bandPosition": 0, "scale": {"domain": ["AcNEI1-", "AcNEI1+"], "range": [1, 227], "paddingInner": 0, "paddingOuter": 0}, "axis": null},
       "text": {"field": "k"}}},
     {"mark": {"type": "tick", "orient": "vertical", "size": 22, "thickness": 1.2, "color": "#444"},
      "encoding": {"x": {"datum": 0.5, "type": "quantitative", "axis": null}, "y": {"field": "k", "type": "nominal", "bandPosition": 0.68, "axis": null}}},
     {"mark": {"type": "square", "size": 170, "filled": true, "stroke": "#444", "strokeWidth": 1, "opacity": 1},
      "encoding": {"x": {"datum": 0.5, "type": "quantitative", "axis": null}, "y": {"field": "k", "type": "nominal", "bandPosition": 0.68, "axis": null},
       "fill": {"field": "k", "type": "nominal", "scale": {"domain": ["AcNEI1-", "AcNEI1+"], "range": ["#F8766D", "#00BFC4"]}, "legend": null}}},
     {"mark": {"type": "tick", "orient": "horizontal", "size": 13, "thickness": 1.5, "color": "#444"},
      "encoding": {"x": {"datum": 0.5, "type": "quantitative", "axis": null}, "y": {"field": "k", "type": "nominal", "bandPosition": 0.68, "axis": null}}}
    ]
   }
  ], "spacing": 5, "resolve": {"scale": {"color": "independent", "fill": "independent", "xOffset": "independent"}}},
  {
   "title": {"text": "E", "dx": -74, "offset": 32},
   "width": 165, "height": 161,
   "layer": [
    {"data": {"values": [{"d":"1","m":3.22,"e":6.0},{"d":"2","m":2.98,"e":5.56},{"d":"4","m":2.74,"e":5.12},{"d":"6","m":2.63,"e":4.9},{"d":"8","m":2.58,"e":4.82},{"d":"10","m":2.58,"e":4.77}]},
     "layer": [
      {"mark": {"type": "rule", "color": "#555", "strokeWidth": 1.5},
       "encoding": {
        "x": {"field": "d", "type": "nominal", "scale": {"domain": ["1","2","4","6","8","10"], "paddingInner": 0, "paddingOuter": 0.05},
              "axis": {"title": "Distance from TSS (kb)", "labelAngle": 0, "ticks": false, "labelFontSize": 13, "labelPadding": 4, "titleFontSize": 14.5, "titlePadding": 3, "domainColor": "#999", "labelColor": "#444"}},
        "y": {"field": "m", "type": "quantitative", "scale": {"domain": [0, 6.39], "range": [161, 46], "nice": false, "zero": false},
              "axis": {"values": [0, 2, 4, 6], "title": "Peak length (kbp)", "titleFontSize": 14.5, "labelFontSize": 13, "tickSize": 5, "labelPadding": 3, "titlePadding": 8, "domainColor": "#999", "tickColor": "#999", "labelColor": "#444"}},
        "y2": {"field": "e"}}},
      {"mark": {"type": "tick", "size": 12, "thickness": 1.5, "color": "#555"},
       "encoding": {"x": {"field": "d", "type": "nominal"}, "y": {"field": "e", "type": "quantitative"}}},
      {"mark": {"type": "bar", "width": 16, "fill": "#C0C0C0", "stroke": "#333", "strokeWidth": 1.3},
       "encoding": {"x": {"field": "d", "type": "nominal"}, "y": {"field": "m", "type": "quantitative"}}}
     ]},
    {"data": {"values": [{"d":"1","p":"3.7","sig":"s"},{"d":"2","p":"4.7","sig":"s"},{"d":"4","p":"1.7","sig":"s"},{"d":"6","p":"0.7","sig":"ns"},{"d":"8","p":"0.5","sig":"ns"}]},
     "layer": [
      {"mark": {"type": "tick", "size": 19, "thickness": 1, "color": "#777"},
       "encoding": {"x": {"field": "d", "type": "nominal", "bandPosition": 1}, "y": {"datum": 6.28}}},
      {"mark": {"type": "text", "fontSize": 14, "fontStyle": "italic", "baseline": "middle"},
       "encoding": {"x": {"field": "d", "type": "nominal", "bandPosition": 1}, "y": {"datum": 6.83}, "text": {"field": "p"},
        "color": {"field": "sig", "type": "nominal", "scale": {"domain": ["s", "ns"], "range": ["#2DB52D", "#444444"]}, "legend": null}}}
     ]},
    {"data": {"values": [{"d": "4", "l": "-log p-value"}]},
     "mark": {"type": "text", "fontSize": 14.5, "baseline": "middle"},
     "encoding": {"x": {"field": "d", "type": "nominal", "bandPosition": 1}, "y": {"datum": 7.9}, "text": {"field": "l"}}}
   ]
  }
 ], "spacing": 19, "resolve": {"scale": {"color": "independent", "fill": "independent", "xOffset": "independent"}}}
 ], "spacing": 25, "resolve": {"scale": {"color": "independent", "fill": "independent", "xOffset": "independent"}}}
]
}
